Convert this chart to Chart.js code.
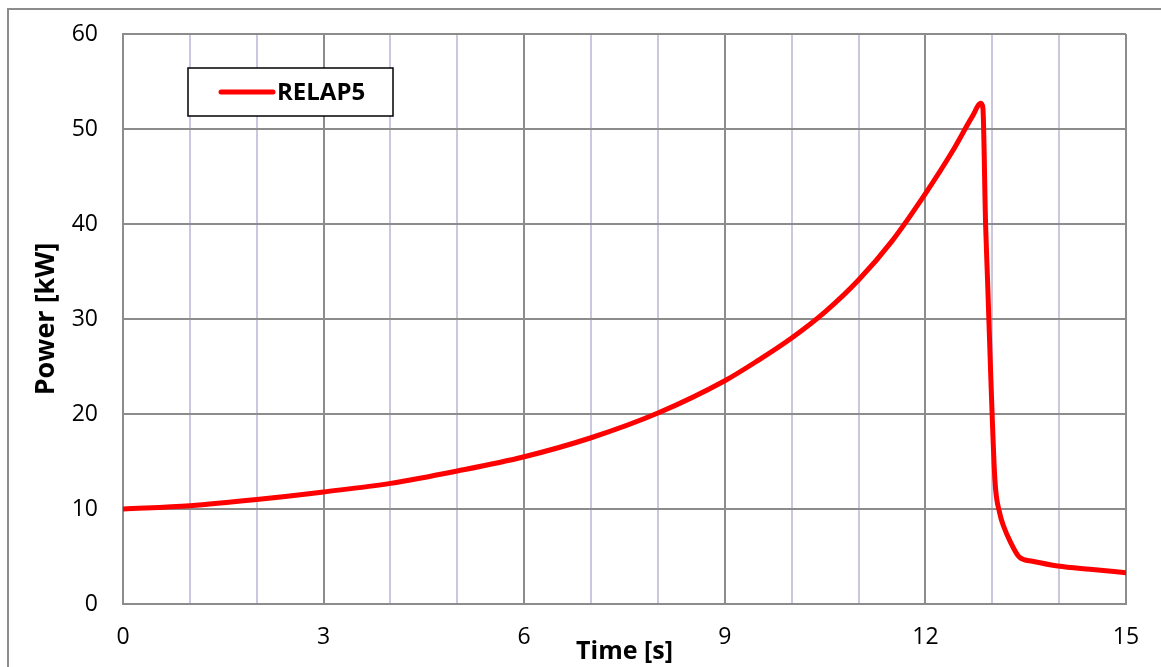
<!DOCTYPE html>
<html>
<head>
<meta charset="utf-8">
<script src="https://cdn.jsdelivr.net/npm/chart.js@4"></script>
<style>
  html, body { margin: 0; padding: 0; background: #fff; }
  #wrap { width: 1161px; height: 667px; position: relative; }
</style>
</head>
<body>
<div id="wrap"><canvas id="powerChart"></canvas></div>
<script>
// RELAP5 power transient
let timeS = [0, 1, 2, 3, 4, 5, 6, 7, 8, 9, 9.5, 10, 10.5, 11, 11.5, 12, 12.4, 12.7, 12.83,
  12.86, 12.9, 12.93, 12.98, 13.04, 13.11, 13.18, 13.26, 13.41, 13.6, 13.98, 14.46, 15];
let powerKW = [10.0, 10.35, 11.0, 11.8, 12.7, 14.0, 15.5, 17.5, 20.1, 23.5, 25.65, 28.0, 30.75, 34.1, 38.2, 43.2, 47.6, 51.3, 52.7,
  52.2, 40.0, 34.0, 23.5, 13.0, 9.6, 8.0, 6.7, 4.9, 4.5, 4.0, 3.65, 3.3];
let xTicks = [0, 3, 6, 9, 12, 15];
let yTicks = [0, 10, 20, 30, 40, 50, 60];

let majorGrid = '#8c8c8c';
let minorGrid = '#c8c8de';
let fontFace = '"Open Sans", "Liberation Sans", sans-serif';

let points = timeS.map((t, i) => ({x: t, y: powerKW[i]}));

// outer frame behind the chart
let framePlugin = {
  id: 'frame',
  beforeDraw(chart) {
    let ctx = chart.ctx;
    ctx.save();
    ctx.strokeStyle = '#8c8c8c';
    ctx.lineWidth = 2;
    ctx.strokeRect(8, 9, 1200, 700);
    ctx.restore();
  }
};

// boxed legend inside the plot
let boxLegend = {
  id: 'boxLegend',
  afterDraw(chart) {
    let ctx = chart.ctx;
    let ds = chart.data.datasets[0];
    ctx.save();
    ctx.fillStyle = '#fff';
    ctx.fillRect(188, 68, 205, 48);
    ctx.strokeStyle = '#000';
    ctx.lineWidth = 1.5;
    ctx.strokeRect(188, 68, 205, 48);
    ctx.strokeStyle = ds.borderColor;
    ctx.lineWidth = 5;
    ctx.lineCap = 'round';
    ctx.beginPath();
    ctx.moveTo(221, 92);
    ctx.lineTo(273, 92);
    ctx.stroke();
    ctx.fillStyle = '#000';
    ctx.font = 'bold 24px ' + fontFace;
    ctx.textBaseline = 'middle';
    ctx.fillText(ds.label, 277, 93);
    ctx.restore();
  }
};

let powerChart = new Chart(document.getElementById('powerChart').getContext('2d'), {
  type: 'line',
  data: {
    datasets: [{
      label: 'RELAP5',
      data: points,
      borderColor: '#ff0000',
      borderWidth: 5,
      pointRadius: 0,
      borderJoinStyle: 'round',
      borderCapStyle: 'round',
      cubicInterpolationMode: 'monotone',
      fill: false
    }]
  },
  options: {
    responsive: true,
    maintainAspectRatio: false,
    animation: false,
    layout: { padding: { left: 0, right: 35, top: 34, bottom: 0 } },
    plugins: {
      legend: { display: false },
      tooltip: { enabled: false }
    },
    scales: {
      x: {
        type: 'linear',
        min: 0,
        max: 15,
        afterFit(scale) { scale.height = 63; },
        ticks: {
          stepSize: 1,
          autoSkip: false,
          maxRotation: 0,
          padding: 20,
          color: '#000',
          font: { family: fontFace, size: 23 },
          callback: v => xTicks.includes(v) ? String(v) : ''
        },
        grid: {
          drawTicks: false,
          lineWidth: 2,
          color: c => (c.tick && xTicks.includes(c.tick.value)) ? majorGrid : minorGrid
        },
        border: { color: majorGrid, width: 2 },
        title: {
          display: true,
          text: 'Time [s]',
          color: '#000',
          font: { family: fontFace, size: 25, weight: 'bold' },
          padding: { top: 0, bottom: 0 }
        }
      },
      y: {
        min: 0,
        max: 60,
        afterFit(scale) {
          scale.width = 123;
          // keep the label overhang from pushing the plot down
          scale.paddingTop = 14;
          scale.paddingBottom = 14;
        },
        afterBuildTicks(scale) { scale.ticks = yTicks.map(v => ({value: v})); },
        ticks: {
          padding: 25,
          color: '#000',
          font: { family: fontFace, size: 23 }
        },
        grid: { drawTicks: false, lineWidth: 2, color: majorGrid },
        border: { color: majorGrid, width: 2 },
        title: {
          display: true,
          text: 'Power [kW]',
          color: '#000',
          font: { family: fontFace, size: 27, weight: 'bold' },
          padding: { top: 30, bottom: 0 }
        }
      }
    }
  },
  plugins: [framePlugin, boxLegend]
});
</script>
</body>
</html>
